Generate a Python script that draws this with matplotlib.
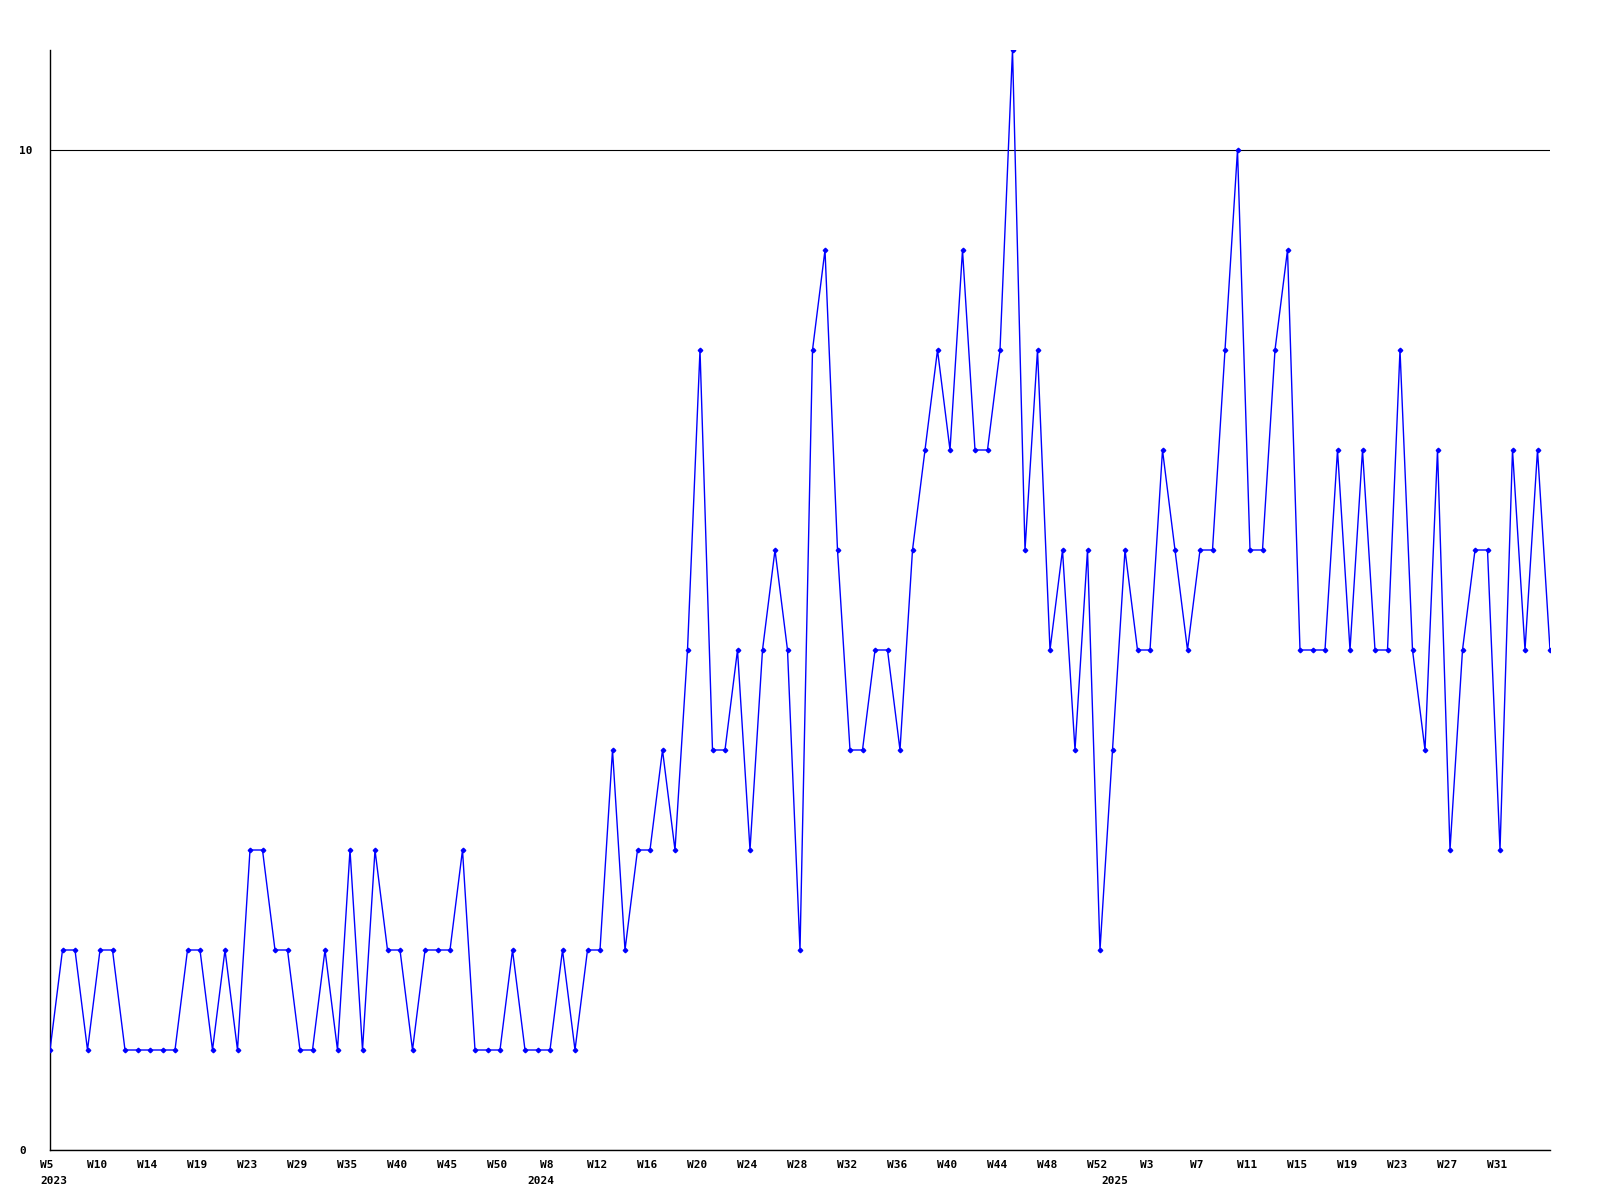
import matplotlib
matplotlib.use("Agg")
from matplotlib import pyplot as plt
from matplotlib import transforms
import numpy as np

# weekly counts, W5 2023 .. W35 2025 (one value per point on the chart)
values = [1, 2, 2, 1, 2, 2, 1, 1, 1, 1,
          1, 2, 2, 1, 2, 1, 3, 3, 2, 2,
          1, 1, 2, 1, 3, 1, 3, 2, 2, 1,
          2, 2, 2, 3, 1, 1, 1, 2, 1, 1,
          1, 2, 1, 2, 2, 4, 2, 3, 3, 4,
          3, 5, 8, 4, 4, 5, 3, 5, 6, 5,
          2, 8, 9, 6, 4, 4, 5, 5, 4, 6,
          7, 8, 7, 9, 7, 7, 8, 11, 6, 8,
          5, 6, 4, 6, 2, 4, 6, 5, 5, 7,
          6, 5, 6, 6, 8, 10, 6, 6, 8, 9,
          5, 5, 5, 7, 5, 7, 5, 5, 8, 5,
          4, 7, 3, 5, 6, 6, 3, 7, 5, 7,
          5]

week_labels = ["W5", "W10", "W14", "W19", "W23", "W29", "W35", "W40", "W45", "W50",
               "W8", "W12", "W16", "W20", "W24", "W28", "W32", "W36", "W40", "W44",
               "W48", "W52", "W3", "W7", "W11", "W15", "W19", "W23", "W27", "W31"]
week_pos = list(range(0, 4 * len(week_labels), 4))

years = ["2023", "2024", "2025"]
year_pos = [0, 39.6, 85.5]

x = np.arange(len(values))

fig = plt.figure(figsize=(16, 12), dpi=100)
ax = fig.add_axes([50 / 1600, 50 / 1200, 1500 / 1600, 1100 / 1200])

ax.plot(x, values, color="#0000ff", lw=1.0, marker="D", ms=2.3, zorder=3)

ax.set_xlim(0, len(values) - 1)
ax.set_ylim(0, 11)

font = dict(family="DejaVu Sans Mono", weight="bold", size=8)

ax.set_yticks([0, 10])
ax.set_yticklabels(["0", "10"], ha="left", **font)
ax.tick_params(axis="y", length=0, pad=22)
ax.yaxis.grid(True, color="black", lw=0.8)

ax.set_xticks(week_pos)
ax.set_xticklabels(week_labels, **font)
ax.tick_params(axis="x", length=0, pad=7)
shift = transforms.ScaledTranslation(-3 / 100, 0, fig.dpi_scale_trans)
for lab in ax.get_xticklabels():
    lab.set_transform(lab.get_transform() + shift)

for yr, p in zip(years, year_pos):
    if p == 0:
        ax.annotate(yr, xy=(p, 0), xycoords=("data", "axes fraction"),
                    xytext=(-7, -19), textcoords="offset points",
                    ha="left", va="top", **font)
    else:
        ax.annotate(yr, xy=(p, 0), xycoords=("data", "axes fraction"),
                    xytext=(-3, -19), textcoords="offset points",
                    ha="center", va="top", **font)

for s in ["top", "right"]:
    ax.spines[s].set_visible(False)
for s in ["left", "bottom"]:
    ax.spines[s].set_color("black")
    ax.spines[s].set_linewidth(1.0)

fig.savefig("out.png", dpi=100)
